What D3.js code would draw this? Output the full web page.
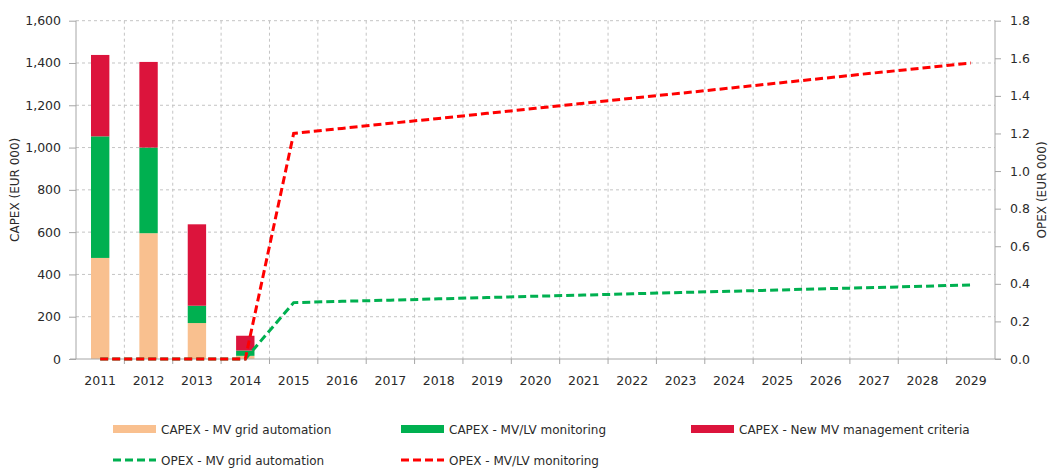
<!DOCTYPE html>
<html>
<head>
<meta charset="utf-8">
<script src="https://cdn.jsdelivr.net/npm/d3@7"></script>
<style>
  html, body { margin: 0; padding: 0; background: #fff; }
  svg { display: block; font-family: "DejaVu Sans", sans-serif; }
</style>
</head>
<body>
<svg id="chart" width="1053" height="470"></svg>
<script>
// ---- Data ----
const years = ["2011","2012","2013","2014","2015","2016","2017","2018","2019","2020","2021","2022","2023","2024","2025","2026","2027","2028","2029"];
const capexGridAutomation = [478, 595, 170, 15, 0, 0, 0, 0, 0, 0, 0, 0, 0, 0, 0, 0, 0, 0, 0];
const capexMvLvMonitoring = [575, 405, 82, 25, 0, 0, 0, 0, 0, 0, 0, 0, 0, 0, 0, 0, 0, 0, 0];
const capexNewMvCriteria  = [385, 405, 385, 70, 0, 0, 0, 0, 0, 0, 0, 0, 0, 0, 0, 0, 0, 0, 0];
const opexGridAutomation  = [0, 0, 0, 0, 0.300, 0.307, 0.313, 0.320, 0.327, 0.334, 0.340, 0.347, 0.354, 0.360, 0.367, 0.374, 0.380, 0.387, 0.394];
const opexMvLvMonitoring  = [0, 0, 0, 0, 1.200, 1.227, 1.254, 1.280, 1.307, 1.334, 1.361, 1.388, 1.414, 1.441, 1.468, 1.495, 1.522, 1.548, 1.575];
const leftTicks  = [0, 200, 400, 600, 800, 1000, 1200, 1400, 1600];
const rightTicks = [0, 0.2, 0.4, 0.6, 0.8, 1.0, 1.2, 1.4, 1.6, 1.8];
const barSeries = [
  {name: "CAPEX - MV grid automation", values: capexGridAutomation, color: "#F9C08F"},
  {name: "CAPEX - MV/LV monitoring", values: capexMvLvMonitoring, color: "#00B050"},
  {name: "CAPEX - New MV management criteria", values: capexNewMvCriteria, color: "#DC143C"}
];
const lineSeries = [
  {name: "OPEX - MV grid automation", values: opexGridAutomation, color: "#00B050"},
  {name: "OPEX - MV/LV monitoring", values: opexMvLvMonitoring, color: "#FF0000"}
];

// ---- Layout ----
const svg = d3.select("#chart");
const L = 76, R = 995, T = 20.7, B = 359;
const textColor = "#2a2a2a";
const axisColor = "#a6a6a6";
const gridColor = "#c4c4c4";

const x = d3.scaleBand().domain(years).range([L, R]).padding(0);
const yL = d3.scaleLinear().domain([0, 1600]).range([B, T]);
const yR = d3.scaleLinear().domain([0, 1.8]).range([B, T]);

// Gridlines horizontal
svg.append("g").selectAll("line").data(leftTicks.filter(d => d > 0)).join("line")
  .attr("x1", L).attr("x2", R)
  .attr("y1", d => yL(d)).attr("y2", d => yL(d))
  .attr("stroke", gridColor).attr("stroke-width", 1).attr("stroke-dasharray", "3,3");
// Gridlines vertical at category boundaries
svg.append("g").selectAll("line").data(years.slice(1)).join("line")
  .attr("x1", d => x(d)).attr("x2", d => x(d))
  .attr("y1", T).attr("y2", B)
  .attr("stroke", gridColor).attr("stroke-width", 1).attr("stroke-dasharray", "3,3");

// Stacked bars
const stackData = years.map((yr, i) => {
  const o = {year: yr};
  barSeries.forEach((s, k) => o["s" + k] = s.values[i]);
  return o;
});
const stack = d3.stack().keys(barSeries.map((s, k) => "s" + k));
const stacked = stack(stackData);
const barW = x.bandwidth() * 0.38;
svg.append("g").selectAll("g").data(stacked).join("g")
  .attr("fill", (d, k) => barSeries[k].color)
  .selectAll("rect").data(d => d).join("rect")
  .attr("x", d => x(d.data.year) + (x.bandwidth() - barW) / 2)
  .attr("width", barW)
  .attr("y", d => yL(d[1]))
  .attr("height", d => Math.max(0, yL(d[0]) - yL(d[1])));

// Axes lines
const axes = svg.append("g");
axes.append("line").attr("x1", L).attr("x2", L).attr("y1", T).attr("y2", B).attr("stroke", axisColor);
axes.append("line").attr("x1", R).attr("x2", R).attr("y1", T).attr("y2", B).attr("stroke", axisColor);
axes.append("line").attr("x1", L - 6).attr("x2", R + 6).attr("y1", B).attr("y2", B).attr("stroke", axisColor);

// Left axis
const gl = svg.append("g").attr("transform", `translate(${L},0)`)
  .call(d3.axisLeft(yL).tickValues(leftTicks).tickFormat(d3.format(",")).tickSize(7).tickPadding(8));
gl.select(".domain").remove();
gl.selectAll(".tick line").attr("stroke", axisColor);
gl.selectAll("text").attr("fill", textColor).style("font-size", "12.5px").style("font-family", "DejaVu Sans");

// Right axis
const gr = svg.append("g").attr("transform", `translate(${R},0)`)
  .call(d3.axisRight(yR).tickValues(rightTicks).tickFormat(d3.format(".1f")).tickSize(6).tickPadding(9));
gr.select(".domain").remove();
gr.selectAll(".tick line").attr("stroke", axisColor);
gr.selectAll("text").attr("fill", textColor).style("font-size", "12.5px").style("font-family", "DejaVu Sans");

// X axis: tick marks at boundaries, labels at band centres
svg.append("g").selectAll("line").data(years.slice(1)).join("line")
  .attr("x1", d => x(d)).attr("x2", d => x(d))
  .attr("y1", B).attr("y2", B + 5).attr("stroke", axisColor);
svg.append("g").selectAll("text").data(years).join("text")
  .attr("x", d => x(d) + x.bandwidth() / 2)
  .attr("y", B + 26)
  .attr("text-anchor", "middle")
  .attr("fill", textColor)
  .style("font-size", "12.5px")
  .text(d => d);

// Axis titles
svg.append("text")
  .attr("transform", `translate(19,${(T + B) / 2}) rotate(-90)`)
  .attr("text-anchor", "middle").attr("fill", textColor).style("font-size", "12px")
  .text("CAPEX (EUR 000)");
svg.append("text")
  .attr("transform", `translate(1046,${(T + B) / 2}) rotate(-90)`)
  .attr("text-anchor", "middle").attr("fill", textColor).style("font-size", "12px")
  .text("OPEX (EUR 000)");

// Lines
const lineGen = d3.line()
  .x((d, i) => x(years[i]) + x.bandwidth() / 2)
  .y(d => yR(d));
svg.append("g").selectAll("path").data(lineSeries).join("path")
  .attr("d", d => lineGen(d.values))
  .attr("fill", "none")
  .attr("stroke", d => d.color)
  .attr("stroke-width", 3)
  .attr("stroke-dasharray", "8,4");

// Legend
const legend = svg.append("g").style("font-size", "12px");
const barLegendX = [113, 401, 691];
barSeries.forEach((s, k) => {
  legend.append("rect").attr("x", barLegendX[k]).attr("y", 425).attr("width", 43).attr("height", 8).attr("fill", s.color);
  legend.append("text").attr("x", barLegendX[k] + 48).attr("y", 433.5).attr("fill", textColor).text(s.name);
});
lineSeries.forEach((s, k) => {
  legend.append("line").attr("x1", barLegendX[k]).attr("x2", barLegendX[k] + 43)
    .attr("y1", 460).attr("y2", 460)
    .attr("stroke", s.color).attr("stroke-width", 3).attr("stroke-dasharray", "8,4");
  legend.append("text").attr("x", barLegendX[k] + 48).attr("y", 464.5).attr("fill", textColor).text(s.name);
});
</script>
</body>
</html>
